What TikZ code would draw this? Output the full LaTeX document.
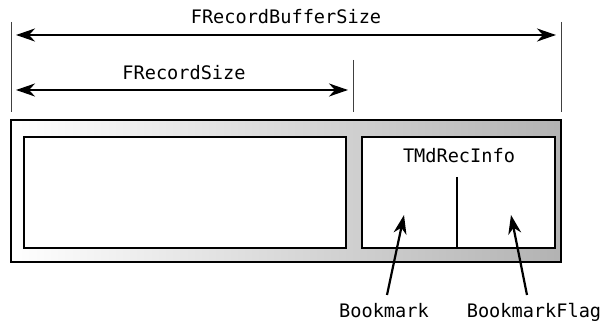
\documentclass[tikz,border=0pt]{standalone}
\usepackage{fontspec}
\setmonofont{DejaVu Sans Mono}
\usetikzlibrary{arrows.meta}
\begin{document}
\begin{tikzpicture}[x=1pt,y=-1pt,
  lbl/.style={font=\ttfamily\fontsize{18.6}{21}\selectfont, inner sep=0pt, anchor=base},
  tip/.style={Stealth[length=19pt,width=13pt,inset=6pt]},
  dim/.style={line width=2.2pt, {Stealth[length=19pt,width=13pt,inset=6pt]}-{Stealth[length=19pt,width=13pt,inset=6pt]}},
  tick/.style={line width=1pt, draw=black!75},
  box/.style={line width=2pt, draw=black},
  ptr/.style={line width=2.2pt, -{Stealth[length=19pt,width=13pt,inset=6pt]}}]
\useasboundingbox (0,0) rectangle (603,323);
% ticks
\coordinate (tLt) at (11,22); \coordinate (tLb) at (11,112);
\coordinate (tRt) at (561,22); \coordinate (tRb) at (561,112);
\coordinate (tMt) at (353,60); \coordinate (tMb) at (353,112);
\draw[tick] (tLt) -- (tLb);
\draw[tick] (tRt) -- (tRb);
\draw[tick] (tMt) -- (tMb);
% dimension arrows
\coordinate (a1) at (16,35); \coordinate (b1) at (556,35);
\coordinate (a2) at (16,90); \coordinate (b2) at (348,90);
\draw[dim] (a1) -- (b1);
\draw[dim] (a2) -- (b2);
\node[lbl] (bufsize) at (286,24) {FRecordBufferSize};
\node[lbl] (recsize) at (184,80) {FRecordSize};
% outer box
\shade[left color=white, right color=black!30] (11,120) rectangle (561,262);
\draw[box] (11,120) rectangle (561,262);
% inner boxes
\node[box, fill=white, minimum width=322pt, minimum height=111pt, inner sep=0pt, anchor=north west] (data) at (23,136) {};
\node[box, fill=white, minimum width=193pt, minimum height=111pt, inner sep=0pt, anchor=north west] (info) at (361,136) {};
\node[lbl] (infolbl) at (459,163) {TMdRecInfo};
\coordinate (divt) at (457,177);
\draw[line width=2pt] (divt) -- (divt |- info.south);
% pointers
\node[lbl] (bm) at (384,318) {Bookmark};
\node[lbl] (bmf) at (534,318) {BookmarkFlag};
\coordinate (bmtail) at (387,295);
\coordinate (bmftail) at (527,295);
\coordinate (bmtip) at (404,215);
\coordinate (bmftip) at (511,215);
\draw[ptr] (bmtail) -- (bmtip);
\draw[ptr] (bmftail) -- (bmftip);
\end{tikzpicture}
\end{document}
